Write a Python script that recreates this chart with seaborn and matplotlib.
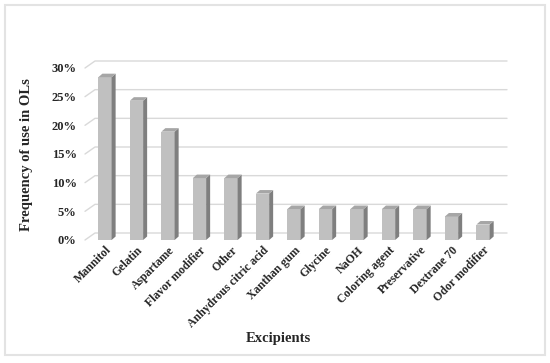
import matplotlib
matplotlib.use("Agg")
import matplotlib.pyplot as plt
from matplotlib.patches import Polygon, Rectangle
from matplotlib.ticker import PercentFormatter
import seaborn as sns
import pandas as pd

excipients = ["Mannitol", "Gelatin", "Aspartame", "Flavor modifier", "Other",
              "Anhydrous citric acid", "Xanthan gum", "Glycine", "NaOH",
              "Coloring agent", "Preservative", "Dextrane 70", "Odor modifier"]
frequency = [0.284, 0.243, 0.189, 0.108, 0.108, 0.081, 0.054, 0.054, 0.054,
             0.054, 0.054, 0.041, 0.027]
yticks = [0, 0.05, 0.10, 0.15, 0.20, 0.25, 0.30]

df = pd.DataFrame({"Excipients": excipients, "Frequency": frequency})

sns.set_style("white")
plt.rcParams["font.family"] = ["Liberation Serif", "DejaVu Serif"]
plt.rcParams["font.weight"] = "bold"

W, H = 550, 363
fig = plt.figure(figsize=(5.5, 3.63), dpi=100)
ax_l, ax_r, ax_b, ax_t = 85, 507, 240, 68
ax = fig.add_axes([ax_l / W, 1 - ax_b / H, (ax_r - ax_l) / W, (ax_b - ax_t) / H])

sns.barplot(data=df, x="Excipients", y="Frequency", color="#c0c0c0",
            width=0.42, saturation=1, edgecolor="none", ax=ax, zorder=3)

xmin, xmax = -0.635, 12.76
ax.set_xlim(xmin, xmax)
ax.set_ylim(0, 0.30)

# data units per pixel
ux = (xmax - xmin) / (ax_r - ax_l)
uy = 0.30 / (ax_b - ax_t)

# perspective gridlines
gdx, gdy = 10 * ux, 7 * uy
for t in yticks:
    ax.plot([xmin, xmin + gdx, xmax], [t, t + gdy, t + gdy], color="#d9d9d9",
            lw=1, zorder=1, clip_on=False)

# 3D faces on the bars
bdx, bdy = 4 * ux, 3.5 * uy
for p in ax.patches:
    x0 = p.get_x()
    w = p.get_width()
    h = p.get_height()
    side = Polygon([(x0 + w, 0), (x0 + w + bdx, bdy), (x0 + w + bdx, h + bdy), (x0 + w, h)],
                   closed=True, facecolor="#7f7f7f", edgecolor="none", zorder=3)
    top = Polygon([(x0, h), (x0 + bdx, h + bdy), (x0 + w + bdx, h + bdy), (x0 + w, h)],
                  closed=True, facecolor="#a6a6a6", edgecolor="none", zorder=3)
    ax.add_patch(side)
    ax.add_patch(top)

ax.set_yticks(yticks)
ax.yaxis.set_major_formatter(PercentFormatter(1.0, decimals=0))
ax.tick_params(axis="y", length=0, pad=6, labelsize=9)
ax.tick_params(axis="x", length=0, pad=3, labelsize=8.5)
plt.setp(ax.get_xticklabels(), rotation=45, ha="right", rotation_mode="anchor",
         fontweight="bold")
plt.setp(ax.get_yticklabels(), fontweight="bold")
sns.despine(ax=ax, left=True, bottom=True)

ax.set_xlabel("Excipients", fontsize=10.5, fontweight="bold")
ax.set_ylabel("Frequency of use in OLs", fontsize=10.5, fontweight="bold")
ax.xaxis.set_label_coords((278 - ax_l) / (ax_r - ax_l), -(332 - ax_b) / (ax_b - ax_t))
ax.yaxis.set_label_coords(-(ax_l - 33) / (ax_r - ax_l), (ax_b - 155) / (ax_b - ax_t))

fig.patches.append(Rectangle((5 / W, 1 - 355 / H), 540 / W, 350 / H,
                             transform=fig.transFigure, fill=False,
                             edgecolor="#e3e3e3", lw=1.5))

fig.savefig("out.png", dpi=100)
